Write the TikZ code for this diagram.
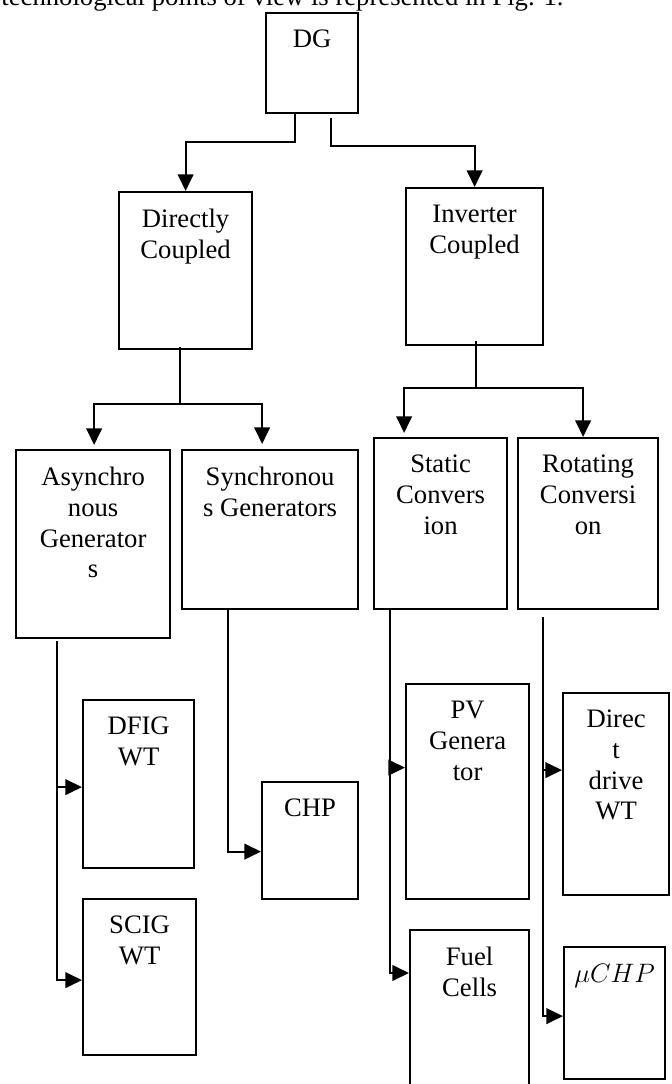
\documentclass[tikz,border=0pt]{standalone}
\usepackage{fontspec}
\setmainfont{Liberation Serif}
\usetikzlibrary{arrows.meta,calc}
\tikzset{
    box/.style={rectangle, draw=black, line width=1pt, anchor=north west, inner sep=0pt},
    boxtext/.style={anchor=north, align=center, inner sep=0pt, yshift=-8pt},
}
\tikzset{
  conn/.style={line width=1pt, -{Triangle[length=7.5pt,width=7pt]}},
  wire/.style={line width=1pt},
}

\begin{document}
\begin{tikzpicture}
    [
        x=0.45pt, y=-0.45pt,
        font=\fontsize{12}{13.8}\selectfont,
    ]
\useasboundingbox (0,0) rectangle (671,1084);

\node[anchor=base west, inner sep=0pt] (caption) at (1,6) {technological points of view is represented in Fig. 1.};

\node[box, minimum width=41.4pt, minimum height=45pt, label={[boxtext]north:DG}] (dg) at (265,12) {};

\node[box, minimum width=59.85pt, minimum height=70.65pt, label={[boxtext]north:Directly\\Coupled}] (dc) at (118,191) {};
\node[box, minimum width=61.65pt, minimum height=70.65pt, label={[boxtext]north:Inverter\\Coupled}] (ic) at (405,187) {};

\node[box, minimum width=69.3pt, minimum height=84.6pt, label={[boxtext]north:Asynchro\\nous\\Generator\\s}] (async) at (15,449) {};
\node[box, minimum width=79.2pt, minimum height=71.55pt, label={[boxtext]north:Synchronou\\s Generators}] (sync) at (181,449) {};
\node[box, minimum width=59.85pt, minimum height=76.95pt, label={[boxtext]north:Static\\Convers\\ion}] (static) at (373,437) {};
\node[box, minimum width=63pt, minimum height=76.95pt, label={[boxtext]north:Rotating\\Conversi\\on}] (rot) at (517,437) {};

\node[box, minimum width=49.95pt, minimum height=75.6pt, label={[boxtext]north:DFIG\\WT}] (dfig) at (82,699) {};
\node[box, minimum width=50.85pt, minimum height=70.2pt, label={[boxtext]north:SCIG\\WT}] (scig) at (82,898) {};
\node[box, minimum width=43.2pt, minimum height=52.65pt, label={[boxtext]north:CHP}] (chp) at (261,781) {};
\node[box, minimum width=55.35pt, minimum height=96.75pt, label={[boxtext]north:PV\\Genera\\tor}] (pv) at (405,683) {};
\node[box, minimum width=47.7pt, minimum height=90.9pt, label={[boxtext]north:Direc\\t\\drive\\WT}] (ddwt) at (562,692) {};
\node[box, minimum width=53.55pt, minimum height=81pt, label={[boxtext]north:Fuel\\Cells}] (fuel) at (409,929) {};
\node[box, minimum width=45.45pt, minimum height=59.4pt, label={[boxtext]north:$\mu CHP$}] (muchp) at (563,946) {};

% top level
\draw[conn] ($(dg.south west)+(30,0)$) -- ++(0,28) -| (dc.north);
\draw[conn] ($(dg.south west)+(66,4)$) -- ++(0,28) -| (ic.north);

% second level
\draw[wire] ($(dc.south)+(-5.5,-3)$) -- ++(0,57) coordinate (dcfork);
\draw[conn] (dcfork) -| ($(async.north)+(1,-4)$);
\draw[conn] (dcfork) -| ($(sync.north)+(-8,-5)$);
\draw[wire] ($(ic.south)+(1.5,-5)$) -- ++(0,47) coordinate (icfork);
\draw[conn] (icfork) -| ($(static.north)+(-36.5,-4)$);
\draw[conn] (icfork) -| ($(rot.north)+(-5,0)$);

% technologies
\draw[conn] ($(async.south)+(-36,2)$) |- ($(dfig.west)+(0,3)$);
\draw[conn] ($(async.south)+(-36,2)$) |- ($(scig.west)+(0,3)$);
\draw[conn] ($(sync.south)+(-42,0)$) |- ($(chp.west)+(0,11)$);
\draw[conn] ($(static.south)+(-50.5,0)$) |- ($(pv.west)+(0,-24)$);
\draw[conn] ($(static.south)+(-50.5,0)$) |- ($(fuel.north west)+(0,44)$);
\draw[conn] ($(rot.south)+(-45,7)$) |- ($(ddwt.west)+(0,-24)$);
\draw[conn] ($(rot.south)+(-45,7)$) |- ($(muchp.west)+(0,3)$);
\end{tikzpicture}
\end{document}
